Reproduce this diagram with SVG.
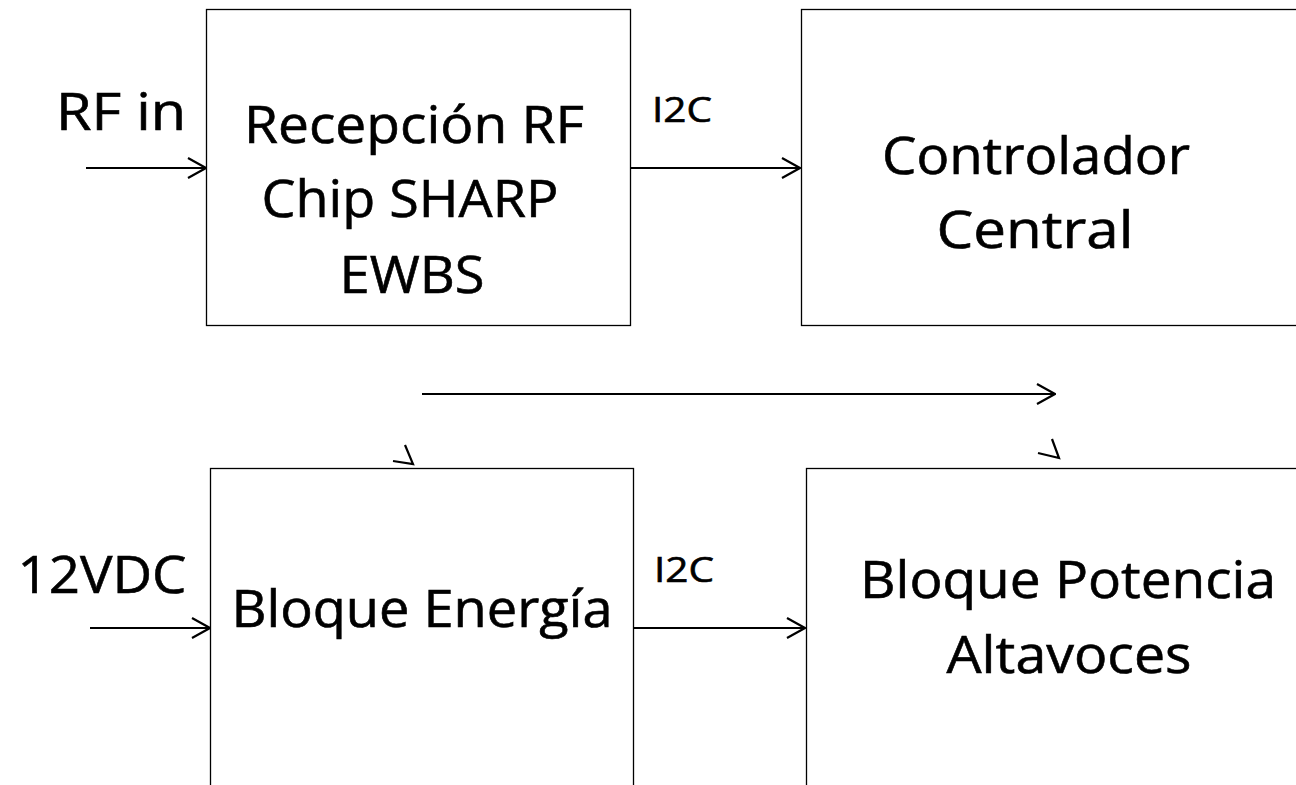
<svg xmlns="http://www.w3.org/2000/svg" width="1296" height="785" viewBox="0 0 1296 785">
<defs>
<marker id="ah" viewBox="0 0 20 22" refX="19" refY="11" markerWidth="20" markerHeight="22" markerUnits="userSpaceOnUse" orient="auto">
<polyline points="1,1 19,11 1,21" fill="none" stroke="#000" stroke-width="2.2"/>
</marker>
<style>
.box{fill:#fff;stroke:#000;stroke-width:1.3}
.t{font-family:"Open Sans","Liberation Sans",sans-serif;fill:#000;stroke:#000;stroke-width:0.6;text-anchor:middle}
.big{font-size:51px}
.sm{font-size:34px}
.ln{stroke:#000;stroke-width:2.2;fill:none}
</style>
</defs>
<rect width="1296" height="785" fill="#fff"/>
<g id="n1">
<rect class="box" x="206.5" y="9.5" width="424" height="316"/>
<text class="t big" x="414" y="143" textLength="340" lengthAdjust="spacingAndGlyphs">Recepción RF</text>
<text class="t big" x="410" y="217" textLength="297" lengthAdjust="spacingAndGlyphs">Chip SHARP</text>
<text class="t big" x="412" y="293" textLength="145" lengthAdjust="spacingAndGlyphs">EWBS</text>
</g>
<g id="n2">
<rect class="box" x="801.5" y="9.5" width="520" height="316"/>
<text class="t big" x="1036" y="174" textLength="308" lengthAdjust="spacingAndGlyphs">Controlador</text>
<text class="t big" x="1035" y="248" textLength="197" lengthAdjust="spacingAndGlyphs">Central</text>
</g>
<g id="n3">
<rect class="box" x="210.5" y="468.5" width="423" height="340"/>
<text class="t big" x="422" y="627" textLength="381" lengthAdjust="spacingAndGlyphs">Bloque Energía</text>
</g>
<g id="n4">
<rect class="box" x="806.5" y="468.5" width="520" height="340"/>
<text class="t big" x="1068" y="598" textLength="416" lengthAdjust="spacingAndGlyphs">Bloque Potencia</text>
<text class="t big" x="1069" y="673" textLength="245" lengthAdjust="spacingAndGlyphs">Altavoces</text>
</g>
<g id="labels">
<text class="t big" x="121" y="130" textLength="130" lengthAdjust="spacingAndGlyphs">RF in</text>
<text class="t big" x="102" y="593" textLength="169" lengthAdjust="spacingAndGlyphs">12VDC</text>
<text class="t sm" x="682" y="122" textLength="60" lengthAdjust="spacingAndGlyphs">I2C</text>
<text class="t sm" x="684" y="582" textLength="60" lengthAdjust="spacingAndGlyphs">I2C</text>
</g>
<g id="connectors">
<line class="ln" x1="86" y1="168" x2="206" y2="168" marker-end="url(#ah)"/>
<line class="ln" x1="631" y1="168" x2="800" y2="168" marker-end="url(#ah)"/>
<line class="ln" x1="90" y1="628" x2="210" y2="628" marker-end="url(#ah)"/>
<line class="ln" x1="634" y1="628" x2="805" y2="628" marker-end="url(#ah)"/>
<line class="ln" x1="422" y1="394" x2="1055" y2="394" marker-end="url(#ah)"/>
<polyline class="ln" points="405,445 413,464 393,461"/>
<polyline class="ln" points="1052,439 1059,458 1038,453"/>
</g>
</svg>
